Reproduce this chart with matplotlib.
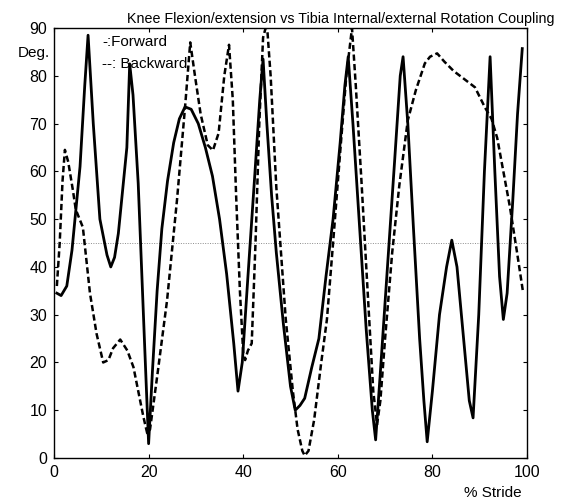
import matplotlib
matplotlib.use("Agg")
import matplotlib.pyplot as plt

# Forward (solid) - % stride vs coupling angle
forward_x = [0.6, 1.5, 2.7, 3.8, 5.5, 6.5, 7.2, 8.3, 9.7, 11.2, 12, 12.8, 13.6, 15.4, 16, 16.7,
             17.8, 19.2, 20, 20.8, 21.8, 22.8, 24, 25.3, 26.5, 27.7, 29, 30.5, 32, 33.5, 35, 36.5,
             38, 38.9, 39.8, 41, 42.5, 43.5, 44.2, 45, 46, 47, 48.5, 50, 51, 52, 53, 54.5, 56, 57.5,
             59, 60.5, 61.5, 62.2, 63.2, 64.5, 66, 67.3, 68, 69, 70.5, 72, 73.2, 73.8, 74.8, 76,
             77.3, 78.2, 78.9, 80, 81.5, 83, 84.1, 85.2, 86.5, 87.8, 88.6, 89.8, 91, 92.2, 93.2,
             94.2, 95, 95.8, 97, 98, 99]
forward_y = [34.5, 34, 36, 43.5, 61, 78, 88.5, 70, 50, 42.5, 40, 42, 47, 65, 82.5, 76,
             57.5, 22.6, 3, 18, 35, 48, 58, 66, 71, 73.5, 73, 70, 65, 59, 50, 38.5,
             24, 14, 20, 38, 60, 75, 83.5, 70, 55, 43, 28, 15, 10, 11, 12.5, 19, 25, 38,
             50, 66, 78, 84, 70, 50, 27, 10, 3.8, 18, 40, 62, 80, 84, 70, 48,
             25, 12, 3.4, 14, 30, 40, 45.6, 40, 26, 12, 8.4, 30, 60, 84, 60,
             38, 29, 34.5, 54, 72, 85.7]

# Backward (dashed)
backward_x = [0.6, 1.2, 1.8, 2.3, 3, 4, 4.6, 6.1, 7.6, 9, 10.4, 11.5, 12.5, 14, 15.5, 16.8,
              18.9, 19.7, 20.3, 21.8, 23.9, 26, 27.7, 28.8, 29.8, 31, 32.5, 33.6, 34.8, 36, 37,
              37.8, 38.5, 39.3, 40, 40.4, 41, 41.8, 42.6, 43.4, 44.2, 45, 45.8, 47, 49, 50.5,
              51.5, 52.5, 53, 53.8, 55, 56.5, 57.7, 59, 60.5, 61.8, 63, 63.8, 65, 66.3, 67.5,
              68.3, 69, 70, 71.5, 73, 74.8, 76.5, 78.4, 79.5, 81, 82.5, 84.5, 86.5, 89, 91.1,
              92.5, 93.7, 95, 96.4, 97.9, 99.2]
backward_y = [36, 45, 58, 64.5, 62, 56, 52, 48.3, 34.5, 26, 20, 20.5, 23, 24.8, 22.5, 19,
              8.6, 5.2, 6, 17, 33, 54, 73.4, 87, 80, 72, 65.5, 64.4, 68, 80, 86.5,
              75, 55, 35, 22, 20.5, 22.5, 24, 45, 70, 88, 91, 80, 56.7, 29, 14,
              6, 1.5, 0.5, 1.5, 8, 20, 29, 45, 64, 80, 90, 78, 58, 35, 14,
              7, 12, 25, 43, 57, 70.7, 77, 82.6, 84, 84.7, 83, 81, 79.5, 77.6, 73.4,
              71, 67, 60, 52.5, 43, 34.5]

x_ticks = [0, 20, 40, 60, 80, 100]
y_ticks = [0, 10, 20, 30, 40, 50, 60, 70, 80, 90]
ref_level = 45


def plot_coupling(output_path):
    plt.rcParams['font.family'] = ['Liberation Sans', 'DejaVu Sans']
    fig = plt.figure(figsize=(5.68, 5.01), dpi=100)
    ax = fig.add_axes([0.0951, 0.0858, 0.8327, 0.8582])

    # 基準線 (45 deg)
    ax.axhline(ref_level, color='0.55', lw=0.7, ls=(0, (1, 1.5)), zorder=1)

    ax.plot(forward_x, forward_y, color='black', lw=2.0, zorder=3)
    ax.plot(backward_x, backward_y, color='black', lw=1.8, ls=(0, (2.5, 1.3)), zorder=2)

    ax.set_xlim(0, 100)
    ax.set_ylim(0, 90)
    ax.set_xticks(x_ticks)
    ax.set_yticks(y_ticks)
    ax.tick_params(direction='in', top=True, right=True, length=3, width=0.8,
                   labelsize=11.5, pad=5)
    for s in ax.spines.values():
        s.set_linewidth(1.0)

    fig.text(0.977, 0.962, 'Knee Flexion/extension vs Tibia Internal/external Rotation Coupling',
             ha='right', va='center', fontsize=10.3)
    fig.text(0.032, 0.895, 'Deg.', ha='left', va='center', fontsize=11)
    fig.text(0.919, 0.016, '% Stride', ha='right', va='center', fontsize=11)
    fig.text(0.181, 0.916, '-:Forward', ha='left', va='center', fontsize=11)
    fig.text(0.180, 0.873, '--: Backward', ha='left', va='center', fontsize=11)

    fig.savefig(output_path, dpi=100)


def main():
    plot_coupling("out.png")


if __name__ == "__main__":
    main()
